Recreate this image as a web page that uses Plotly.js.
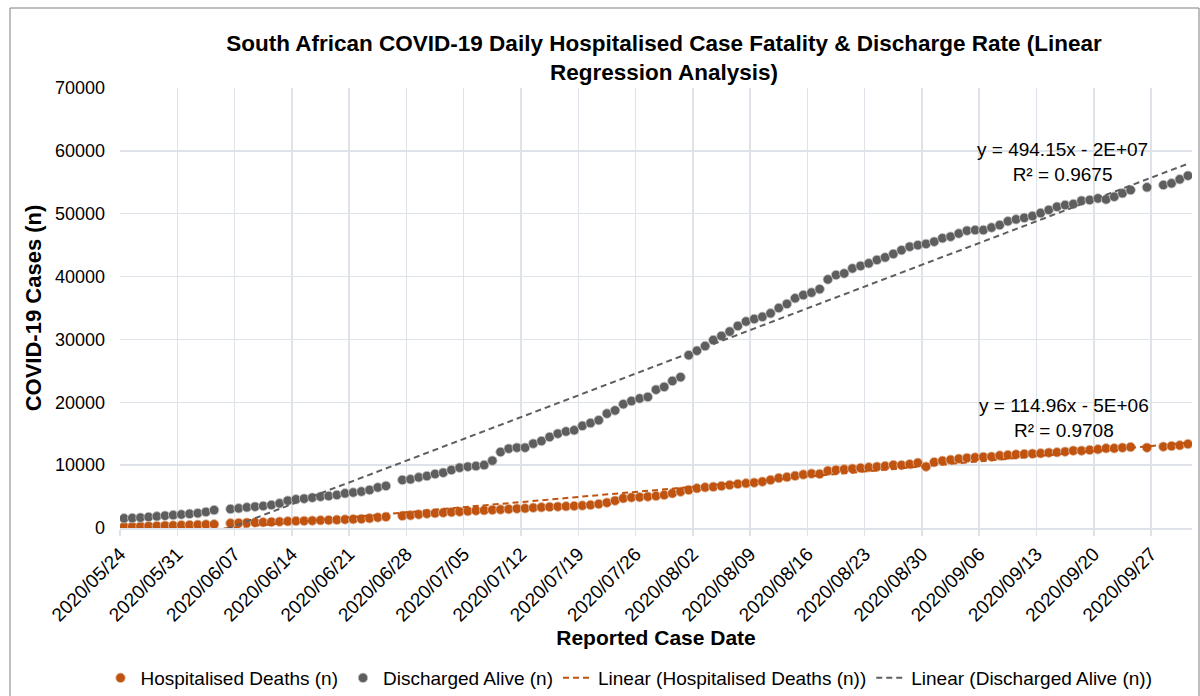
<!DOCTYPE html>
<html>
<head>
<meta charset="utf-8">
<script src="https://cdn.plot.ly/plotly-3.0.1.min.js"></script>
<style>
  html, body { margin: 0; padding: 0; background: #fff; }
  #chart { width: 1200px; height: 696px; }
</style>
</head>
<body>
<div id="chart"></div>
<script>
// ---- data ----
const startDate = '2020-05-24';           // first reported case date (day 0)
const dayCount = 131;                     // 2020/05/24 .. 2020/10/01

const hospitalisedDeaths = [
  210, 240, 270, 300, 330, 370, 400, 440, 470, 510,
  550, 590, null, 750, 790, 850, 880, 910, 960, 1010,
  1060, 1110, 1130, 1170, 1220, 1250, 1300, 1350, 1400, 1450,
  1540, 1680, 1780, null, 1940, 2010, 2150, 2280, 2360, 2440,
  2520, 2600, 2680, 2760, 2820, 2880, 2940, 3000, 3080, 3130,
  3220, 3290, 3350, 3400, 3450, 3500, 3570, 3660, 3820, 4030,
  4350, 4720, 4850, 4900, 4990, 5090, 5250, 5510, 5780, 6050,
  6310, 6470, 6550, 6680, 6840, 7000, 7110, 7210, 7370, 7640,
  7950, 8100, 8300, 8500, 8650, 8600, 9100, 9230, 9340, 9440,
  9550, 9650, 9750, 9860, 10020, 10000, 10150, 10370, 9760, 10480,
  10680, 10850, 11010, 11140, 11220, 11300, 11350, 11530, 11610, 11700,
  11770, 11820, 11880, 11980, 12040, 12140, 12300, 12300, 12410, 12520,
  12680, 12680, 12780, 12880, null, 12780, null, 12940, 13040, 13150,
  13360
];

const dischargedAlive = [
  1540, 1580, 1650, 1750, 1850, 1950, 2050, 2150, 2250, 2350,
  2550, 2850, null, 3020, 3130, 3290, 3390, 3500, 3660, 3920,
  4350, 4560, 4670, 4830, 4990, 5090, 5250, 5510, 5650, 5800,
  6050, 6450, 6700, null, 7640, 7750, 8060, 8270, 8590, 8800,
  9230, 9590, 9750, 9860, 10020, 10710, 12090, 12620, 12780, 12780,
  13420, 13840, 14480, 15010, 15350, 15550, 16250, 16700, 17150, 18200,
  18700, 19700, 20200, 20600, 20850, 22000, 22450, 23400, 24000, 27500,
  28200, 28950, 29900, 30550, 31250, 32150, 32850, 33250, 33600, 34150,
  35000, 35650, 36550, 37050, 37450, 38000, 39550, 40250, 40500, 41300,
  41700, 42100, 42650, 43050, 43600, 44200, 44750, 45000, 45200, 45550,
  46100, 46350, 46850, 47300, 47400, 47400, 47800, 48200, 48800, 49100,
  49350, 49630, 50100, 50600, 51100, 51380, 51540, 52070, 52180, 52440,
  52280, 52700, 53250, 53770, null, 54200, null, 54570, 54830, 55470,
  56050
];

const deathsEquation = ['y = 114.96x - 5E+06', 'R\u00b2 = 0.9708'];
const dischargeEquation = ['y = 494.15x - 2E+07', 'R\u00b2 = 0.9675'];

const seriesNames = [
  'Hospitalised Deaths (n)',
  'Discharged Alive (n)',
  'Linear (Hospitalised Deaths (n))',
  'Linear (Discharged Alive (n))'
];

// ---- helpers ----
const DAY = 86400000;
const t0 = Date.parse(startDate + 'T00:00:00Z');
function iso(ms) {
  const d = new Date(ms);
  const p = n => String(n).padStart(2, '0');
  return d.getUTCFullYear() + '-' + p(d.getUTCMonth() + 1) + '-' + p(d.getUTCDate()) +
         ' ' + p(d.getUTCHours()) + ':' + p(d.getUTCMinutes());
}
// each day's point sits in the middle of its date slot
const dates = Array.from({length: dayCount}, (_, i) => iso(t0 + i * DAY + DAY / 2));

function linearFit(ys) {
  let n = 0, sx = 0, sy = 0, sxx = 0, sxy = 0;
  ys.forEach((y, i) => {
    if (y === null) return;
    n++; sx += i; sy += y; sxx += i * i; sxy += i * y;
  });
  const slope = (n * sxy - sx * sy) / (n * sxx - sx * sx);
  const intercept = (sy - slope * sx) / n;
  return {slope, intercept};
}
function trendTrace(ys, name, color) {
  const f = linearFit(ys);
  const last = ys.length - 1;
  return {
    x: [dates[0], dates[last]],
    y: [f.intercept, f.intercept + f.slope * last],
    mode: 'lines', type: 'scatter', name: name,
    line: {color: color, width: 2, dash: '6px,4px'},
    hoverinfo: 'skip'
  };
}

const ORANGE = '#C0530F';
const GREY = '#5E5E5E';
const FONT = 'Liberation Sans, Arial, sans-serif';

const traces = [
  {
    x: dates, y: hospitalisedDeaths, mode: 'markers', type: 'scatter',
    name: seriesNames[0],
    marker: {color: ORANGE, size: 9.5, line: {color: 'rgba(225,190,165,0.8)', width: 1}}
  },
  {
    x: dates, y: dischargedAlive, mode: 'markers', type: 'scatter',
    name: seriesNames[1],
    marker: {color: GREY, size: 9.5, line: {color: 'rgba(200,200,200,0.8)', width: 1}}
  },
  trendTrace(hospitalisedDeaths, seriesNames[2], ORANGE),
  trendTrace(dischargedAlive, seriesNames[3], GREY)
];

const layout = {
  width: 1200, height: 696,
  margin: {l: 120, r: 8, t: 88, b: 168, autoexpand: false},
  paper_bgcolor: '#fff', plot_bgcolor: '#fff',
  font: {family: FONT, size: 19, color: '#000'},
  title: {
    text: '<b>South African COVID-19 Daily Hospitalised Case Fatality &amp; Discharge Rate (Linear<br>Regression Analysis)</b>',
    font: {family: FONT, size: 22.5, color: '#000'},
    x: (664 - 120) / 1072, xref: 'paper', xanchor: 'center',
    y: 1 - 51 / 696, yref: 'container', yanchor: 'middle'
  },
  xaxis: {
    type: 'date',
    range: [startDate, iso(t0 + dayCount * DAY)],
    tick0: startDate, dtick: 7 * DAY,
    tickformat: '%Y/%m/%d', tickangle: -45,
    tickfont: {size: 19, color: '#000'},
    showgrid: true, gridcolor: '#DEE3EA', gridwidth: 1.5,
    ticks: 'outside', ticklen: 6, tickcolor: '#DEE3EA', tickwidth: 1.5,
    showline: true, linecolor: '#DEE3EA', linewidth: 1.5,
    zeroline: false,
    title: {text: '<b>Reported Case Date</b>', font: {size: 21, color: '#000'}, standoff: 4},
    automargin: false
  },
  yaxis: {
    range: [0, 70000], dtick: 10000, tickformat: 'd',
    tickfont: {size: 18, color: '#000'},
    ticklabelstandoff: 14,
    showgrid: true, gridcolor: '#DEE3EA', gridwidth: 1.5,
    zeroline: false, showline: false, ticks: '',
    title: {text: '<b>COVID-19 Cases (n)</b>', font: {size: 22, color: '#000'}, standoff: 7},
    automargin: false
  },
  showlegend: true,
  legend: {
    orientation: 'h', x: (629 - 120) / 1072, xanchor: 'center', y: (528 - 678) / 440, yanchor: 'middle',
    font: {size: 19, color: '#000'}, traceorder: 'normal',
    bgcolor: 'rgba(0,0,0,0)'
  },
  annotations: [
    {
      xref: 'paper', yref: 'paper', x: (1062 - 120) / 1072, y: (528 - 162) / 440,
      xanchor: 'center', yanchor: 'middle',
      text: dischargeEquation.join('<br>'), showarrow: false,
      font: {size: 19, color: '#000'}, align: 'center'
    },
    {
      xref: 'paper', yref: 'paper', x: (1064 - 120) / 1072, y: (528 - 418) / 440,
      xanchor: 'center', yanchor: 'middle',
      text: deathsEquation.join('<br>'), showarrow: false,
      font: {size: 19, color: '#000'}, align: 'center'
    }
  ],
  shapes: [
    {
      type: 'rect', xref: 'paper', yref: 'paper',
      x0: (10 - 120) / 1072, x1: (1199 - 120) / 1072,
      y0: (528 - 720) / 440, y1: (528 - 8) / 440,
      line: {color: '#7f7f7f', width: 1}, fillcolor: 'rgba(0,0,0,0)', layer: 'below'
    }
  ]
};

Plotly.newPlot('chart', traces, layout, {displayModeBar: false, staticPlot: true});
</script>
</body>
</html>
